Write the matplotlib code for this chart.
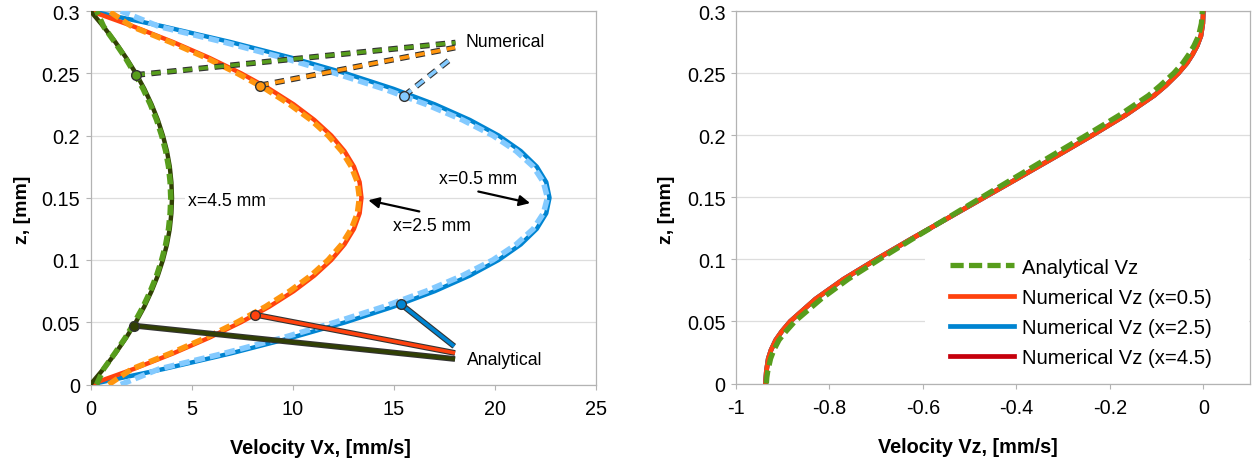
import numpy as np
import matplotlib.pyplot as plt
import matplotlib.patheffects as pe
from matplotlib.patches import Rectangle

plt.rcParams['font.family'] = ['Liberation Sans', 'DejaVu Sans']
plt.rcParams['axes.unicode_minus'] = False

# ---- data: Vx profiles, z in [mm], Vx in [mm/s]
z_x = [0.0, 0.0125, 0.025, 0.0375, 0.05, 0.0625, 0.075, 0.0875, 0.1, 0.1125,
       0.125, 0.1375, 0.15, 0.1625, 0.175, 0.1875, 0.2, 0.2125, 0.225, 0.2375,
       0.25, 0.2625, 0.275, 0.2875, 0.3]

vx_num_05 = [0, 3.63, 6.94, 9.93, 12.61, 14.98, 17.03, 18.76, 20.18, 21.28, 22.07, 22.54, 22.70,
             22.54, 22.07, 21.28, 20.18, 18.76, 17.03, 14.98, 12.61, 9.93, 6.94, 3.63, 0]
vx_ana_05 = [1.5, 3.4, 6.6, 9.5, 12.1, 14.5, 16.6, 18.4, 19.9, 21.05, 21.9, 22.4, 22.6,
             22.4, 21.9, 21.05, 19.9, 18.4, 16.6, 14.5, 12.1, 9.5, 6.6, 3.4, 1.5]
vx_num_25 = [0, 2.14, 4.09, 5.86, 7.44, 8.84, 10.05, 11.07, 11.91, 12.56, 13.03, 13.31, 13.40,
             13.31, 13.03, 12.56, 11.91, 11.07, 10.05, 8.84, 7.44, 5.86, 4.09, 2.14, 0]
vx_ana_25 = [0.9, 2.05, 3.95, 5.7, 7.25, 8.65, 9.85, 10.9, 11.75, 12.42, 12.9, 13.2, 13.3,
             13.2, 12.9, 12.42, 11.75, 10.9, 9.85, 8.65, 7.25, 5.7, 3.95, 2.05, 0.9]
vx_num_45 = [0, 0.64, 1.23, 1.76, 2.24, 2.66, 3.02, 3.33, 3.58, 3.78, 3.92, 4.00, 4.03,
             4.00, 3.92, 3.78, 3.58, 3.33, 3.02, 2.66, 2.24, 1.76, 1.23, 0.64, 0]
vx_ana_45 = [0.3, 0.65, 1.2, 1.72, 2.18, 2.6, 2.96, 3.27, 3.52, 3.72, 3.86, 3.94, 3.97,
             3.94, 3.86, 3.72, 3.52, 3.27, 2.96, 2.6, 2.18, 1.72, 1.2, 0.65, 0.3]

# ---- data: Vz profiles
z_z = [0.0, 0.005, 0.01, 0.02, 0.027, 0.035, 0.042, 0.05, 0.068, 0.084, 0.1, 0.116, 0.135,
       0.15, 0.165, 0.184, 0.2, 0.216, 0.232, 0.24, 0.25, 0.258, 0.265, 0.272, 0.28, 0.29, 0.3]
vz_ana = [-0.935, -0.934, -0.932, -0.926, -0.919, -0.908, -0.893, -0.874, -0.818, -0.760,
          -0.693, -0.624, -0.540, -0.474, -0.407, -0.322, -0.250, -0.180, -0.117, -0.092,
          -0.063, -0.044, -0.031, -0.020, -0.010, -0.004, -0.002]
vz_num_05 = [-0.937, -0.936, -0.935, -0.931, -0.925, -0.915, -0.902, -0.884, -0.830, -0.770,
             -0.700, -0.627, -0.538, -0.468, -0.398, -0.310, -0.237, -0.167, -0.105, -0.080,
             -0.053, -0.035, -0.023, -0.013, -0.005, -0.001, 0.0]
vz_num_25 = list(vz_num_05)
vz_num_45 = list(vz_num_05)

xticks_l = [0, 5, 10, 15, 20, 25]
xticks_r = [-1, -0.8, -0.6, -0.4, -0.2, 0]
zticks = [0, 0.05, 0.1, 0.15, 0.2, 0.25, 0.3]

BLUE, LBLUE = '#0084d1', '#83caff'
RED, ORANGE = '#ff420e', '#ff950e'
DGREEN, GREEN = '#314004', '#579d1c'
DRED = '#c5000b'
OUTLINE = '#333333'

W, H = 1253, 464
fig = plt.figure(figsize=(W / 100, H / 100), dpi=100)


def px_axes(x0, x1, ytop, ybot):
    return fig.add_axes([x0 / W, (H - ybot) / H, (x1 - x0) / W, (ybot - ytop) / H])


def style(ax, xticks):
    ax.set_ylim(0, 0.3)
    ax.set_yticks(zticks)
    ax.set_xticks(xticks)
    ax.set_xticklabels(['%g' % t for t in xticks])
    ax.set_yticklabels(['%g' % t for t in zticks])
    ax.yaxis.grid(True, color='#dddddd', lw=0.9)
    ax.set_axisbelow(True)
    for s in ax.spines.values():
        s.set_color('#b3b3b3')
        s.set_linewidth(0.9)
    ax.tick_params(direction='out', length=3.6, width=0.8, color='#b3b3b3',
                   labelsize=14.3)
    ax.tick_params(axis='x', pad=7)
    ax.tick_params(axis='y', pad=4)
    ax.set_ylabel('z, [mm]', fontsize=14, fontweight='bold')


# ---------------- left: Vx
ax1 = px_axes(90.5, 596, 12, 385.5)
ax1.set_xlim(0, 25)
style(ax1, xticks_l)
ax1.set_xlabel('Velocity Vx, [mm/s]', fontsize=14.3, fontweight='bold')
ax1.xaxis.set_label_coords((320 - 90.5) / (596 - 90.5), -0.143)
ax1.yaxis.set_label_coords(-0.118, 0.47)

dash = (0, (1.9, 0.9))
for vn, va, cn, ca in [(vx_num_05, vx_ana_05, BLUE, LBLUE),
                       (vx_num_25, vx_ana_25, RED, ORANGE),
                       (vx_num_45, vx_ana_45, DGREEN, GREEN)]:
    ax1.plot(vn, z_x, color=cn, lw=3.2, solid_capstyle='butt', zorder=3)
    ax1.plot(va, z_x, color=ca, lw=4.0, ls=dash, zorder=4)

# leader lines to the labels
stroke = [pe.Stroke(linewidth=4.2, foreground=OUTLINE), pe.Normal()]
leaders_num = [(vx_ana_45, GREEN, 0.2486, 18.05, 0.2746),
               (vx_ana_25, ORANGE, 0.2401, 18.03, 0.2706),
               (vx_ana_05, LBLUE, 0.2316, 17.9, 0.2626)]
leaders_ana = [(vx_num_45, DGREEN, 0.0473, 18.03, 0.0205),
               (vx_num_25, RED, 0.0561, 18.03, 0.0253),
               (vx_num_05, BLUE, 0.0647, 17.99, 0.0307)]
for i, (vals, c, z0, x1, z1) in enumerate(leaders_num + leaders_ana):
    x0 = np.interp(z0, z_x, vals)
    ls = (0, (2.6, 1.8)) if i < 3 else '-'
    ax1.plot([x0, x1], [z0, z1], color=c, lw=2.6, ls=ls, zorder=6,
             solid_capstyle='butt', dash_capstyle='butt', path_effects=stroke)
    ax1.plot([x0], [z0], 'o', ms=7, mfc=c, mec=OUTLINE, mew=1.0, zorder=7)

ax1.text(18.56, 0.2754, 'Numerical', fontsize=12.7, va='center', ha='left')
ax1.text(18.6, 0.0197, 'Analytical', fontsize=12.7, va='center', ha='left')
ax1.text(4.82, 0.148, 'x=4.5 mm', fontsize=12.7, va='center', ha='left',
         bbox=dict(fc='white', ec='none', pad=2))
ax1.text(14.98, 0.1275, 'x=2.5 mm', fontsize=12.7, va='center', ha='left')
ax1.text(17.25, 0.1657, 'x=0.5 mm', fontsize=12.7, va='center', ha='left')
arrow = dict(arrowstyle='-|>', lw=1.6, color='black', mutation_scale=16, shrinkA=0, shrinkB=0)
ax1.annotate('', xy=(13.74, 0.148), xytext=(16.26, 0.139), arrowprops=arrow)
ax1.annotate('', xy=(21.74, 0.1457), xytext=(19.18, 0.155), arrowprops=arrow)

# ---------------- right: Vz
ax2 = px_axes(736, 1250, 12, 384.5)
ax2.set_xlim(-1, 0.1)
style(ax2, xticks_r)
ax2.set_xlabel('Velocity Vz, [mm/s]', fontsize=14.3, fontweight='bold')
ax2.xaxis.set_label_coords((968 - 736) / (1250 - 736), -0.143)
ax2.yaxis.set_label_coords(-0.119, 0.47)

l45, = ax2.plot(vz_num_45, z_z, color=DRED, lw=3.4, zorder=3)
l25, = ax2.plot(vz_num_25, z_z, color=BLUE, lw=3.4, zorder=3)
l05, = ax2.plot(vz_num_05, z_z, color=RED, lw=3.4, zorder=4)
la, = ax2.plot(vz_ana, z_z, color=GREEN, lw=3.8, ls=(0, (2.5, 1.0)), zorder=5)

# white legend area hides the grid behind it
ax2.add_patch(Rectangle(((925 - 736) / 514, 0.03), 1 - (925 - 736) / 514 - 0.002, 0.36,
                        transform=ax2.transAxes, fc='white', ec='none', zorder=1))
leg = ax2.legend([la, l05, l25, l45],
                 ['Analytical Vz', 'Numerical Vz (x=0.5)', 'Numerical Vz (x=2.5)',
                  'Numerical Vz (x=4.5)'],
                 loc='lower left', bbox_to_anchor=(0.405, 0.028), fontsize=14.6,
                 frameon=False, handlelength=3.15, handletextpad=0.4, labelspacing=0.55,
                 borderpad=0.3, borderaxespad=0)
leg.set_zorder(10)

fig.savefig('out.png', dpi=100)
